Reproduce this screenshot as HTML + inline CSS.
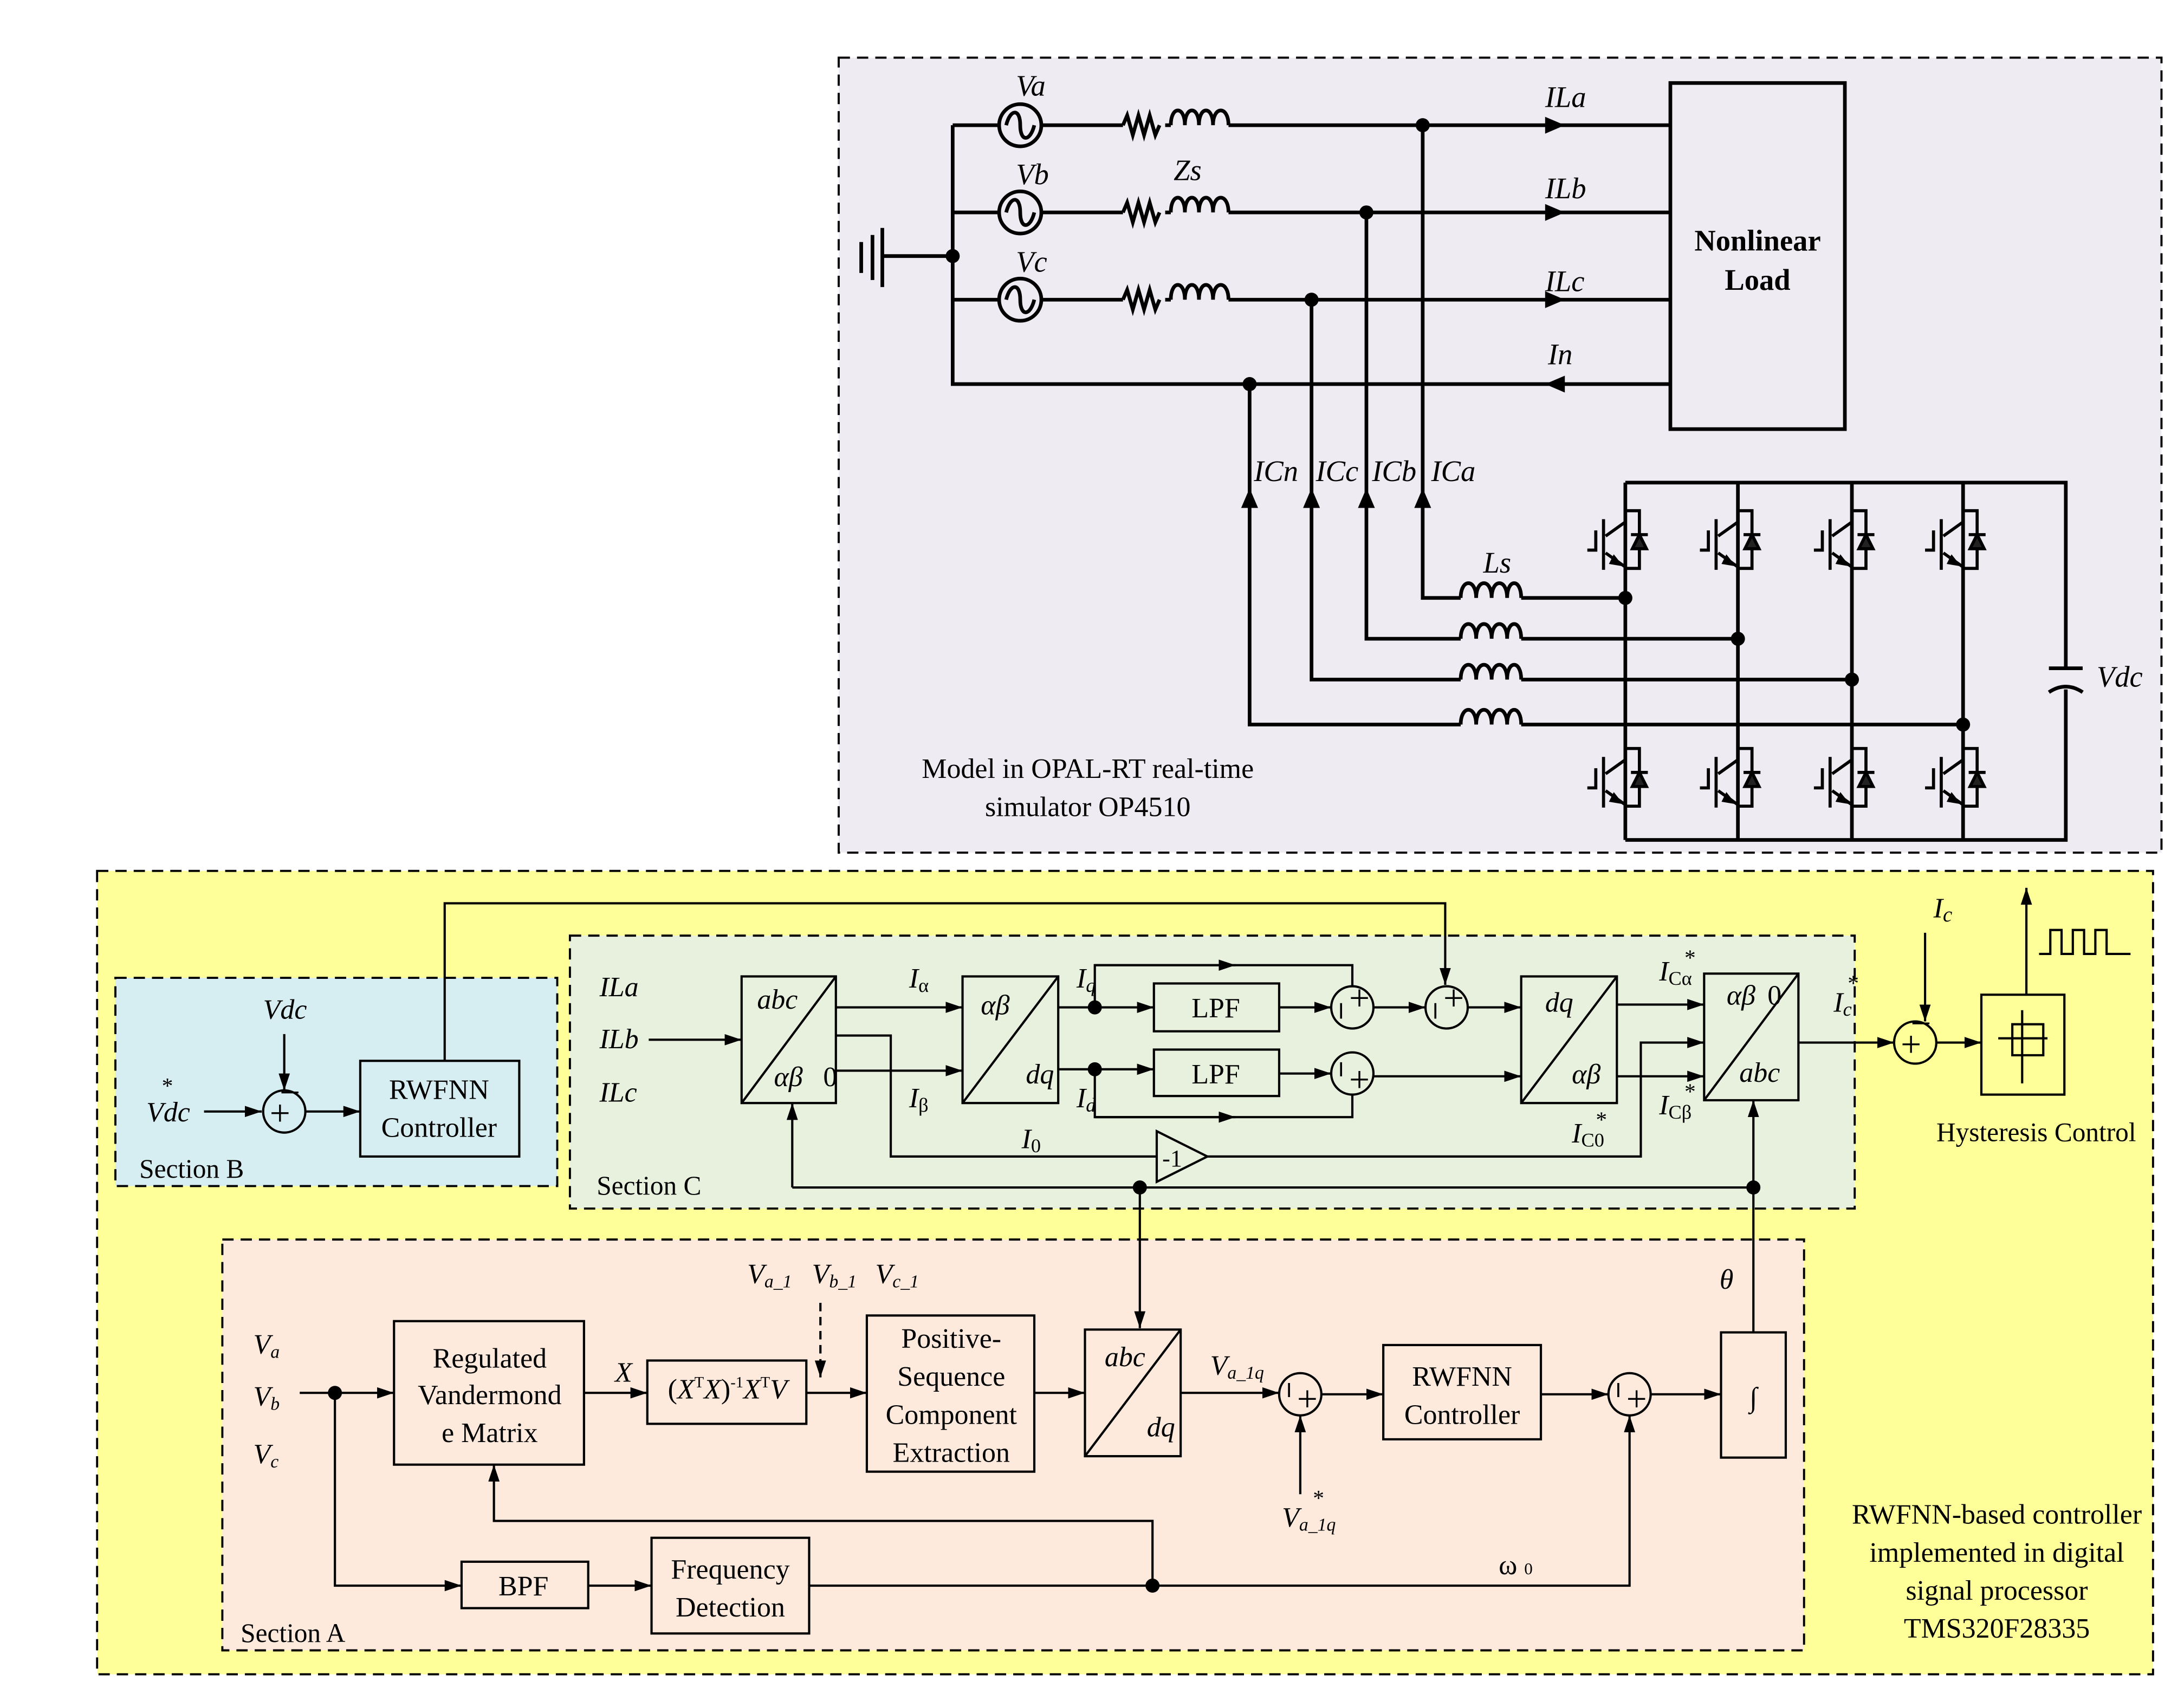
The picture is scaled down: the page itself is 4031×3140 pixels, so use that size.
<!DOCTYPE html>
<html><head><meta charset="utf-8"><style>
html,body{margin:0;padding:0;background:#fff}
svg{display:block}
text{font-family:"Liberation Serif",serif;fill:#000}
.i{font-style:italic}
</style></head><body>
<svg xmlns="http://www.w3.org/2000/svg" width="4031" height="3140" viewBox="0 0 1552 1209" preserveAspectRatio="none">
<defs>
<marker id="a" viewBox="0 0 12 8" refX="12" refY="4" markerWidth="12" markerHeight="8" markerUnits="userSpaceOnUse" orient="auto"><path d="M0,0 L12,4 L0,8 z" fill="#000"/></marker>
<g id="sw" fill="none" stroke="#000" stroke-width="2.2">
<path d="M0,0 H10 V41 H0"/>
<path d="M0,0 V8 L-14,18"/>
<path d="M-15.5,6 V42"/>
<path d="M-21,14 V28 H-27"/>
<path d="M-14,30 L0,40 V41"/>
<path d="M4,17 H16" />
<path d="M10,17 L5,27 H15 Z" fill="#222"/>
<path d="M-4,38 L-8,33 L-10,37 Z" fill="#000"/>
</g>
</defs>

<!-- TOP BOX -->
<rect x="596" y="41" width="940" height="565" fill="#efebf2" stroke="#000" stroke-width="1.5" stroke-dasharray="8,5"/>
<g fill="none" stroke="#000" stroke-width="2.6">
<path d="M612,172 V194 M620,167 V199 M627,162 V204 M627,182 H677"/>
<path d="M677,89 V273 H1187"/>
<path d="M677,89 H710 M740,89 H798 M828,89 H832 M873,89 H1187"/>
<path d="M677,151 H710 M740,151 H798 M828,151 H832 M873,151 H1187"/>
<path d="M677,213 H710 M740,213 H798 M828,213 H832 M873,213 H1187"/>
<circle cx="725" cy="89" r="15"/><circle cx="725" cy="151" r="15"/><circle cx="725" cy="213" r="15"/>
<path d="M715,89 c3,-12 10,-12 10,0 c0,12 7,12 10,0"/>
<path d="M715,151 c3,-12 10,-12 10,0 c0,12 7,12 10,0"/>
<path d="M715,213 c3,-12 10,-12 10,0 c0,12 7,12 10,0"/>
<path d="M798,89 l3,-7 l4,14 l4,-14 l4,14 l4,-14 l4,14 l3,-7"/>
<path d="M798,151 l3,-7 l4,14 l4,-14 l4,14 l4,-14 l4,14 l3,-7"/>
<path d="M798,213 l3,-7 l4,14 l4,-14 l4,14 l4,-14 l4,14 l3,-7"/>
<path d="M832,89 c0,-14 10,-14 10,0 c0,-14 10,-14 10,0 c0,-14 10,-14 10,0 c0,-14 11,-14 11,0"/>
<path d="M832,151 c0,-14 10,-14 10,0 c0,-14 10,-14 10,0 c0,-14 10,-14 10,0 c0,-14 11,-14 11,0"/>
<path d="M832,213 c0,-14 10,-14 10,0 c0,-14 10,-14 10,0 c0,-14 10,-14 10,0 c0,-14 11,-14 11,0"/>
<rect x="1187" y="59" width="124" height="246"/>
<path d="M1011,89 V425 H1038 M1081,425 H1155"/>
<path d="M971,151 V454 H1038 M1081,454 H1235"/>
<path d="M932,213 V483 H1038 M1081,483 H1316"/>
<path d="M888,273 V515 H1038 M1081,515 H1395"/>
<path d="M1038,425 c0,-14 11,-14 11,0 c0,-14 11,-14 11,0 c0,-14 11,-14 11,0 c0,-14 10,-14 10,0"/>
<path d="M1038,454 c0,-14 11,-14 11,0 c0,-14 11,-14 11,0 c0,-14 11,-14 11,0 c0,-14 10,-14 10,0"/>
<path d="M1038,483 c0,-14 11,-14 11,0 c0,-14 11,-14 11,0 c0,-14 11,-14 11,0 c0,-14 10,-14 10,0"/>
<path d="M1038,515 c0,-14 11,-14 11,0 c0,-14 11,-14 11,0 c0,-14 11,-14 11,0 c0,-14 10,-14 10,0"/>
<path d="M1155,343 H1468 V475 M1468,490 V597 H1155"/>
<path d="M1155,343 V597 M1235,343 V597 M1316,343 V597 M1395,343 V597"/>
<path d="M1456,475 H1480 M1456,492 q12,-8 24,0"/>
</g>
<g fill="#000">
<circle cx="677" cy="182" r="5"/><circle cx="1011" cy="89" r="5"/><circle cx="971" cy="151" r="5"/><circle cx="932" cy="213" r="5"/><circle cx="888" cy="273" r="5"/>
<circle cx="1155" cy="425" r="5"/><circle cx="1235" cy="454" r="5"/><circle cx="1316" cy="483" r="5"/><circle cx="1395" cy="515" r="5"/>
<path d="M1098,83 L1112,89 L1098,95 Z M1098,145 L1112,151 L1098,157 Z M1098,207 L1112,213 L1098,219 Z M1112,267 L1098,273 L1112,279 Z"/>
<path d="M882,361 L888,347 L894,361 Z M926,361 L932,347 L938,361 Z M965,361 L971,347 L977,361 Z M1005,361 L1011,347 L1017,361 Z"/>
</g>
<use href="#sw" x="1155" y="363"/><use href="#sw" x="1235" y="363"/><use href="#sw" x="1316" y="363"/><use href="#sw" x="1395" y="363"/>
<use href="#sw" x="1155" y="532"/><use href="#sw" x="1235" y="532"/><use href="#sw" x="1316" y="532"/><use href="#sw" x="1395" y="532"/>
<g font-size="21" class="i">
<text x="722" y="68" class="i">Va</text><text x="722" y="131" class="i">Vb</text><text x="722" y="193" class="i">Vc</text>
<text x="834" y="128" class="i">Zs</text>
<text x="1098" y="76" class="i">ILa</text><text x="1098" y="141" class="i">ILb</text><text x="1098" y="207" class="i">ILc</text><text x="1100" y="259" class="i">In</text>
<text x="891" y="342" class="i">ICn</text><text x="935" y="342" class="i">ICc</text><text x="975" y="342" class="i">ICb</text><text x="1017" y="342" class="i">ICa</text>
<text x="1054" y="407" class="i">Ls</text><text x="1490" y="488" class="i">Vdc</text>
</g>
<text x="1249" y="178" font-size="21" font-weight="bold" text-anchor="middle">Nonlinear</text>
<text x="1249" y="206" font-size="21" font-weight="bold" text-anchor="middle">Load</text>
<text x="773" y="553" font-size="20" text-anchor="middle">Model in OPAL-RT real-time</text>
<text x="773" y="580" font-size="20" text-anchor="middle">simulator OP4510</text>

<!-- YELLOW BOX -->
<rect x="69" y="619" width="1461" height="571" fill="#ffff99" stroke="#000" stroke-width="1.5" stroke-dasharray="8,5"/>
<rect x="82" y="695" width="314" height="148" fill="#d6edf2" stroke="#000" stroke-width="1.5" stroke-dasharray="8,5"/>
<rect x="405" y="665" width="913" height="194" fill="#e8f1de" stroke="#000" stroke-width="1.5" stroke-dasharray="8,5"/>
<rect x="158" y="881" width="1124" height="292" fill="#fdeadd" stroke="#000" stroke-width="1.5" stroke-dasharray="8,5"/>

<g fill="none" stroke="#000" stroke-width="1.6">
<path d="M145,790 H186" marker-end="url(#a)"/>
<path d="M202,735 V775" marker-end="url(#a)"/>
<circle cx="202" cy="790" r="15"/>
<path d="M217,790 H256" marker-end="url(#a)"/>
<rect x="256" y="754" width="113" height="68"/>
<path d="M316,754 V642 H1027 V700" marker-end="url(#a)"/>
<path d="M461,739 H527" marker-end="url(#a)"/>
<rect x="527" y="694" width="67" height="90"/><path d="M527,784 L594,694"/>
<path d="M594,716 H684" marker-end="url(#a)"/>
<path d="M594,761 H684" marker-end="url(#a)"/>
<path d="M594,736 H633 V822 H822"/>
<path d="M822,804 L858,822 L822,840 Z"/>
<path d="M858,822 H1166 V741 H1211" marker-end="url(#a)"/>
<rect x="684" y="694" width="68" height="90"/><path d="M684,784 L752,694"/>
<path d="M752,716 H820" marker-end="url(#a)"/>
<path d="M752,760 H820" marker-end="url(#a)"/>
<path d="M778,716 V686 H961 V701"/><path d="M778,686 H878" marker-end="url(#a)"/>
<path d="M778,760 V794 H961 V778"/><path d="M778,794 H878" marker-end="url(#a)"/>
<rect x="820" y="699" width="89" height="34"/><rect x="820" y="746" width="89" height="33"/>
<path d="M909,716 H946" marker-end="url(#a)"/>
<path d="M909,763 H946" marker-end="url(#a)"/>
<circle cx="961" cy="716" r="15"/><circle cx="961" cy="763" r="15"/><circle cx="1028" cy="716" r="15"/>
<path d="M976,716 H1013" marker-end="url(#a)"/>
<path d="M1043,716 H1081" marker-end="url(#a)"/>
<path d="M976,765 H1081" marker-end="url(#a)"/>
<rect x="1081" y="694" width="68" height="90"/><path d="M1081,784 L1149,694"/>
<path d="M1149,714 H1211" marker-end="url(#a)"/>
<path d="M1149,765 H1211" marker-end="url(#a)"/>
<rect x="1211" y="692" width="67" height="90"/><path d="M1211,782 L1278,692"/>
<path d="M1278,741 H1346" marker-end="url(#a)"/>
<circle cx="1361" cy="741" r="15"/>
<path d="M1368,663 V726" marker-end="url(#a)"/>
<path d="M1376,741 H1408" marker-end="url(#a)"/>
<rect x="1408" y="707" width="59" height="71"/>
<path d="M1420,738 H1455 M1437,718 V770 M1430,728 V750 H1452 V728 Z"/>
<path d="M1440,707 V631" marker-end="url(#a)"/>
<path d="M1449,678 H1457 V661 H1465 V678 H1473 V661 H1481 V678 H1489 V661 H1497 V678 H1514"/>
<path d="M563,844 H1246"/><path d="M563,844 V784" marker-end="url(#a)"/>
<path d="M1246,947 V782" marker-end="url(#a)"/>
<path d="M810,844 V944" marker-end="url(#a)"/>
<path d="M213,990 H280" marker-end="url(#a)"/>
<path d="M238,990 V1127 H328" marker-end="url(#a)"/>
<rect x="280" y="939" width="135" height="102"/>
<path d="M415,990 H460" marker-end="url(#a)"/>
<rect x="460" y="967" width="113" height="45"/>
<path d="M583,926 V979" stroke-dasharray="6,4" marker-end="url(#a)"/>
<path d="M573,990 H616" marker-end="url(#a)"/>
<rect x="616" y="935" width="119" height="111"/>
<path d="M735,990 H771" marker-end="url(#a)"/>
<rect x="771" y="945" width="68" height="90"/><path d="M771,1035 L839,945"/>
<path d="M839,990 H909" marker-end="url(#a)"/>
<circle cx="924" cy="991" r="15"/>
<path d="M924,1062 V1006" marker-end="url(#a)"/>
<path d="M939,991 H983" marker-end="url(#a)"/>
<rect x="983" y="956" width="112" height="67"/>
<path d="M1095,991 H1143" marker-end="url(#a)"/>
<circle cx="1158" cy="991" r="15"/>
<path d="M1173,991 H1223" marker-end="url(#a)"/>
<rect x="1223" y="947" width="46" height="89"/>
<rect x="328" y="1110" width="90" height="33"/>
<path d="M418,1127 H463" marker-end="url(#a)"/>
<rect x="463" y="1093" width="112" height="68"/>
<path d="M575,1127 H1158 V1006" marker-end="url(#a)"/>
<path d="M819,1127 V1081 H351 V1041" marker-end="url(#a)"/>
</g>
<g fill="#000">
<circle cx="778" cy="716" r="5"/><circle cx="778" cy="760" r="5"/><circle cx="810" cy="844" r="5"/><circle cx="1246" cy="844" r="5"/>
<circle cx="238" cy="990" r="5"/><circle cx="819" cy="1127" r="5"/>
</g>
<!-- sum signs -->
<g font-size="26" text-anchor="middle">
<text x="199" y="800" font-family="Liberation Sans, sans-serif">+</text><text x="206" y="785" font-family="Liberation Sans, sans-serif">−</text>
<text x="1358" y="751" font-family="Liberation Sans, sans-serif">+</text><text x="1365" y="736" font-family="Liberation Sans, sans-serif">−</text>
<text x="966" y="718" font-family="Liberation Sans, sans-serif">+</text><text x="1033" y="718" font-family="Liberation Sans, sans-serif">+</text>
<text x="966" y="776" font-family="Liberation Sans, sans-serif">+</text>
<text x="929" y="1003" font-family="Liberation Sans, sans-serif">+</text><text x="1163" y="1003" font-family="Liberation Sans, sans-serif">+</text>
</g>
<g stroke="#000" stroke-width="1.4">
<path d="M953,713 V724 M1020,713 V724 M953,755 V765 M916,983 V993 M1150,983 V993"/>
</g>
<!-- Section B labels -->
<g font-size="20">
<text x="104" y="797" class="i">Vdc</text><text x="115" y="777" font-size="16">*</text>
<text x="187" y="724" class="i">Vdc</text>
<text x="312" y="781" text-anchor="middle">RWFNN</text><text x="312" y="808" text-anchor="middle">Controller</text>
<text x="99" y="837" font-size="19">Section B</text>
</g>
<!-- other labels -->
<g font-size="20" transform="translate(0,-8)">
<text x="426" y="716" class="i">ILa</text><text x="426" y="753" class="i">ILb</text><text x="426" y="791" class="i">ILc</text>
<text x="538" y="725" class="i">abc</text><text x="550" y="780" class="i">αβ</text><text x="585" y="780">0</text>
<text x="646" y="710" class="i">I<tspan font-size="14" font-style="normal" dy="3">α</tspan></text>
<text x="646" y="795" class="i">I<tspan font-size="14" font-style="normal" dy="3">β</tspan></text>
<text x="726" y="824" class="i">I<tspan font-size="14" font-style="normal" dy="3">0</tspan></text>
<text x="697" y="729" class="i">αβ</text><text x="729" y="778" class="i">dq</text>
<text x="765" y="710" class="i">I<tspan font-size="14" dy="3">q</tspan></text>
<text x="765" y="795" class="i">I<tspan font-size="14" dy="3">d</tspan></text>
<text x="864" y="731" text-anchor="middle">LPF</text><text x="864" y="778" text-anchor="middle">LPF</text>
<text x="833" y="837" text-anchor="middle" font-size="17">-1</text>
<text x="1098" y="727" class="i">dq</text><text x="1117" y="778" class="i">αβ</text>
<text x="1179" y="705" class="i">I<tspan font-size="14" font-style="normal" dy="3">Cα</tspan></text><text x="1197" y="694" font-size="16">*</text>
<text x="1179" y="800" class="i">I<tspan font-size="14" font-style="normal" dy="3">Cβ</tspan></text><text x="1197" y="789" font-size="16">*</text>
<text x="1117" y="820" class="i">I<tspan font-size="14" font-style="normal" dy="3">C0</tspan></text><text x="1134" y="809" font-size="16">*</text>
<text x="1227" y="722" class="i">αβ</text><text x="1256" y="722">0</text><text x="1236" y="777" class="i">abc</text>
<text x="1303" y="727" class="i">I<tspan font-size="14" dy="3">c</tspan></text><text x="1313" y="712" font-size="16">*</text>
<text x="1374" y="660" class="i">I<tspan font-size="15" dy="3">c</tspan></text>
<text x="1447" y="819" text-anchor="middle" font-size="19">Hysteresis Control</text>
<text x="424" y="857" font-size="19">Section C</text>
<text x="180" y="970" class="i">V<tspan font-size="13" dy="3">a</tspan></text>
<text x="180" y="1007" class="i">V<tspan font-size="13" dy="3">b</tspan></text>
<text x="180" y="1048" class="i">V<tspan font-size="13" dy="3">c</tspan></text>
<text x="348" y="980" text-anchor="middle">Regulated</text><text x="348" y="1006" text-anchor="middle">Vandermond</text><text x="348" y="1033" text-anchor="middle">e Matrix</text>
<text x="437" y="990" class="i">X</text>
<text x="517" y="1002" text-anchor="middle">(<tspan class="i">X</tspan><tspan font-size="11" dy="-8">T</tspan><tspan class="i" dy="8">X</tspan>)<tspan font-size="11" dy="-8">-1</tspan><tspan class="i" dy="8">X</tspan><tspan font-size="11" dy="-8">T</tspan><tspan class="i" dy="8">V</tspan></text>
<text x="531" y="920" class="i">V<tspan font-size="13" dy="3">a_1</tspan></text>
<text x="577" y="920" class="i">V<tspan font-size="13" dy="3">b_1</tspan></text>
<text x="622" y="920" class="i">V<tspan font-size="13" dy="3">c_1</tspan></text>
<text x="676" y="966" text-anchor="middle">Positive-</text><text x="676" y="993" text-anchor="middle">Sequence</text><text x="676" y="1020" text-anchor="middle">Component</text><text x="676" y="1047" text-anchor="middle">Extraction</text>
<text x="785" y="979" class="i">abc</text><text x="815" y="1029" class="i">dq</text>
<text x="860" y="985" class="i">V<tspan font-size="13" dy="3">a_1q</tspan></text>
<text x="911" y="1093" class="i">V<tspan font-size="13" dy="3">a_1q</tspan></text><text x="933" y="1078" font-size="16">*</text>
<text x="1039" y="993" text-anchor="middle">RWFNN</text><text x="1039" y="1020" text-anchor="middle">Controller</text>
<text x="1246" y="1008" text-anchor="middle">∫</text>
<text x="1222" y="924" class="i">θ</text>
<text x="1065" y="1127">ω<tspan font-size="12" dx="5">0</tspan></text>
<text x="372" y="1142" text-anchor="middle">BPF</text>
<text x="519" y="1130" text-anchor="middle">Frequency</text><text x="519" y="1157" text-anchor="middle">Detection</text>
<text x="171" y="1175" font-size="19">Section A</text>
<text x="1419" y="1091" text-anchor="middle">RWFNN-based controller</text>
<text x="1419" y="1118" text-anchor="middle">implemented in digital</text>
<text x="1419" y="1145" text-anchor="middle">signal processor</text>
<text x="1419" y="1172" text-anchor="middle">TMS320F28335</text>
</g>
</svg>
</body></html>
